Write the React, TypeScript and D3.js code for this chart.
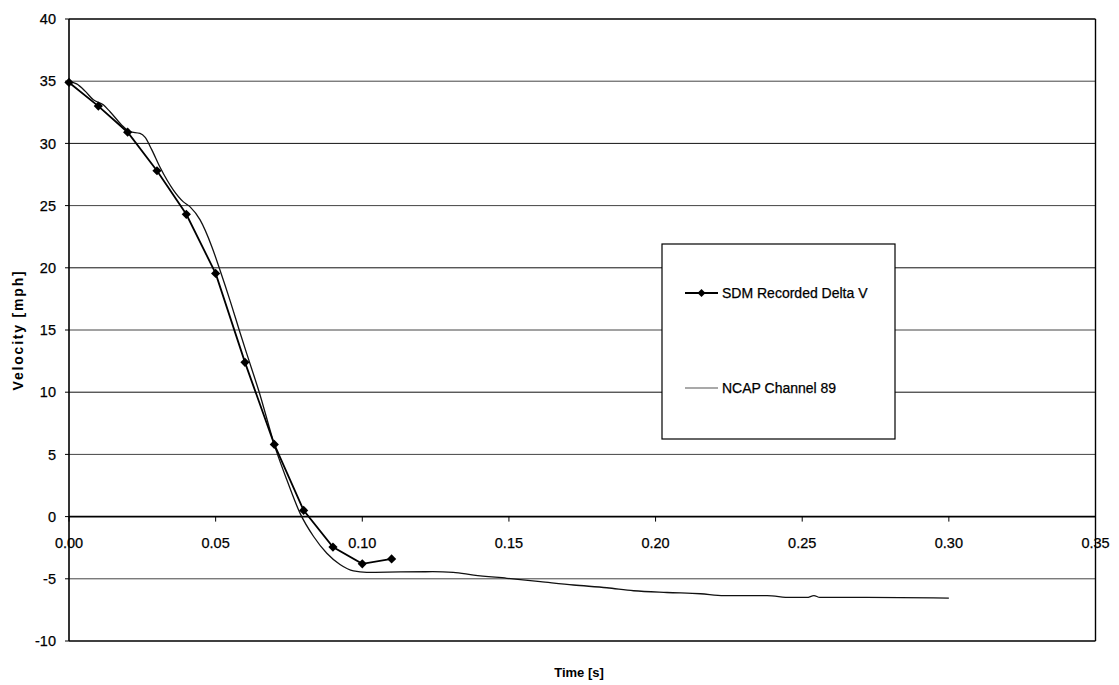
import React from "react";
import * as d3 from "d3";

// SDM recorded delta-V samples (10 ms spacing)
const sdmTime = [0, 0.01, 0.02, 0.03, 0.04, 0.05, 0.06, 0.07, 0.08, 0.09, 0.1, 0.11];
const sdmVelocity = [34.9, 33.0, 30.9, 27.8, 24.3, 19.55, 12.4, 5.8, 0.5, -2.45, -3.8, -3.4];

// NCAP accelerometer channel 89, integrated velocity trace
const ncapTime = [
  0, 0.0026, 0.0055, 0.0083, 0.0117, 0.014, 0.0185, 0.0208, 0.0242, 0.0259, 0.0282, 0.031,
  0.0356, 0.039, 0.0413, 0.0447, 0.0487, 0.0515, 0.055, 0.0583, 0.0606, 0.0646, 0.0708,
  0.0743, 0.0788, 0.0834, 0.0879, 0.0924, 0.097, 0.1015, 0.113, 0.124, 0.131, 0.138,
  0.1493, 0.1607, 0.172, 0.1834, 0.1925, 0.2039, 0.2153, 0.2233, 0.238, 0.246, 0.2516,
  0.254, 0.256, 0.272, 0.3,
];
const ncapVelocity = [
  34.96, 34.78, 34.2, 33.5, 33.1, 32.55, 31.35, 30.94, 30.8, 30.5, 29.5, 28.1,
  26.25, 25.3, 24.9, 23.85, 21.7, 19.8, 17.3, 14.8, 13.1, 10.2, 5.2,
  2.94, 0.26, -1.6, -2.95, -3.85, -4.37, -4.48, -4.45, -4.43, -4.48, -4.7,
  -4.96, -5.23, -5.5, -5.72, -5.96, -6.1, -6.2, -6.35, -6.35, -6.5, -6.5,
  -6.35, -6.5, -6.5, -6.55,
];

const xTicks = [0, 0.05, 0.1, 0.15, 0.2, 0.25, 0.3, 0.35];
const yTicks = [-10, -5, 0, 5, 10, 15, 20, 25, 30, 35, 40];

const seriesNames = ["SDM Recorded Delta V", "NCAP Channel 89"];

const W = 1119;
const H = 685;
const FONT = "'Liberation Sans', Arial, sans-serif";

export default function App() {
  const x = d3.scaleLinear().domain([0, 0.35]).range([69, 1095.5]);
  const y = d3.scaleLinear().domain([-10, 40]).range([641, 19]);

  const sdm = sdmTime.map((t, i) => [t, sdmVelocity[i]] as [number, number]);
  const ncap = ncapTime.map((t, i) => [t, ncapVelocity[i]] as [number, number]);

  const sdmLine = d3
    .line<[number, number]>()
    .x((d) => x(d[0]))
    .y((d) => y(d[1]))
    .curve(d3.curveLinear);
  const ncapLine = d3
    .line<[number, number]>()
    .x((d) => x(d[0]))
    .y((d) => y(d[1]))
    .curve(d3.curveMonotoneX);

  const diamond = (cx: number, cy: number, r = 4.6) =>
    `M${cx},${cy - r}L${cx + r},${cy}L${cx},${cy + r}L${cx - r},${cy}Z`;

  const [x0, x1] = x.range();
  const [yb, yt] = y.range();

  const lg = { x: 662, y: 244, w: 233, h: 195 };
  const textStroke = { stroke: "#000", strokeWidth: 0.25 };

  return (
    <svg
      width={W}
      height={H}
      viewBox={`0 0 ${W} ${H}`}
      style={{ position: "absolute", left: 0, top: 0, background: "#fff" }}
    >
      <rect x={0} y={0} width={W} height={H} fill="#fff" />

      {/* horizontal gridlines */}
      {yTicks
        .filter((v) => v !== 0 && v !== -10 && v !== 40)
        .map((v) => (
          <line
            key={`g${v}`}
            x1={x0}
            x2={x1}
            y1={y(v)}
            y2={y(v)}
            stroke={v % 10 === 0 ? "#111" : "#444"}
            strokeWidth={1}
          />
        ))}

      {/* plot frame */}
      <line x1={x0} x2={x1} y1={yt} y2={yt} stroke="#000" strokeWidth={1.6} />
      <line x1={x0} x2={x1} y1={yb} y2={yb} stroke="#000" strokeWidth={1.6} />
      <line x1={x1} x2={x1} y1={yt} y2={yb} stroke="#000" strokeWidth={1.4} />
      <line x1={x0} x2={x0} y1={yt} y2={yb} stroke="#000" strokeWidth={1.6} />
      {/* zero line acts as the time axis */}
      <line x1={x0} x2={x1} y1={y(0)} y2={y(0)} stroke="#000" strokeWidth={1.6} />

      {/* y ticks and labels */}
      {yTicks.map((v) => (
        <g key={`yt${v}`}>
          <line x1={x0 - 4} x2={x0} y1={y(v)} y2={y(v)} stroke="#000" strokeWidth={1} />
          <text
            x={56}
            y={y(v)}
            dy="0.36em"
            textAnchor="end"
            fontFamily={FONT}
            fontSize={14.5}
            fill="#000"
            {...textStroke}
          >
            {v}
          </text>
        </g>
      ))}

      {/* x ticks and labels */}
      {xTicks.map((t) => (
        <g key={`xt${t}`}>
          <line x1={x(t)} x2={x(t)} y1={y(0)} y2={y(0) + 5} stroke="#000" strokeWidth={1} />
          <text
            x={x(t)}
            y={548}
            textAnchor="middle"
            fontFamily={FONT}
            fontSize={14.5}
            fill="#000"
            {...textStroke}
          >
            {t.toFixed(2)}
          </text>
        </g>
      ))}

      {/* axis titles */}
      <text
        x={579}
        y={677}
        textAnchor="middle"
        fontFamily={FONT}
        fontSize={13}
        fontWeight="bold"
        fill="#000"
      >
        Time [s]
      </text>
      <text
        transform={`translate(23,${(yt + yb) / 2}) rotate(-90)`}
        textAnchor="middle"
        fontFamily={FONT}
        fontSize={14}
        fontWeight="bold"
        letterSpacing={1.8}
        fill="#000"
      >
        Velocity [mph]
      </text>

      {/* series */}
      <path d={ncapLine(ncap) || ""} fill="none" stroke="#111" strokeWidth={1.3} />
      <path d={sdmLine(sdm) || ""} fill="none" stroke="#000" strokeWidth={1.8} />
      {sdm.map((d, i) => (
        <path key={`m${i}`} d={diamond(x(d[0]), y(d[1]))} fill="#000" />
      ))}

      {/* legend */}
      <rect x={lg.x} y={lg.y} width={lg.w} height={lg.h} fill="#fff" stroke="#000" strokeWidth={1.2} />
      <line x1={685} x2={718} y1={293} y2={293} stroke="#000" strokeWidth={1.8} />
      <path d={diamond(701.5, 293, 4)} fill="#000" />
      <text x={722} y={293} dy="0.36em" fontFamily={FONT} fontSize={14} fill="#000" {...textStroke}>
        {seriesNames[0]}
      </text>
      <line x1={685} x2={718} y1={388} y2={388} stroke="#555" strokeWidth={1.2} />
      <text x={722} y={388} dy="0.36em" fontFamily={FONT} fontSize={14} fill="#000" {...textStroke}>
        {seriesNames[1]}
      </text>
    </svg>
  );
}
